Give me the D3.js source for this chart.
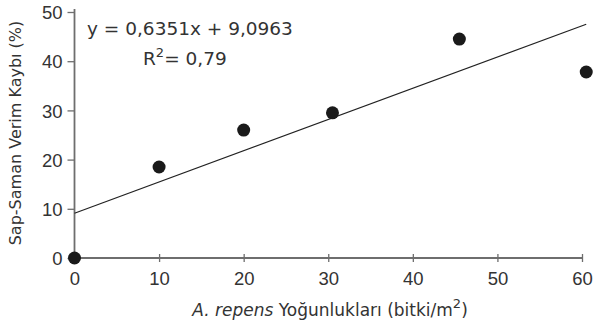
<!DOCTYPE html>
<html>
<head>
<meta charset="utf-8">
<script src="https://cdn.jsdelivr.net/npm/d3@7"></script>
<style>
body { margin: 0; background: #fff; }
svg { display: block; font-family: "DejaVu Sans", Verdana, sans-serif; }
</style>
</head>
<body>
<svg width="597" height="325"></svg>
<script>
// A. repens density vs. straw yield loss
let densities = [0, 10, 20, 30.5, 45.5, 60.5];
let losses = [0, 18.5, 26, 29.5, 44.5, 37.8];
let xTicks = [0, 10, 20, 30, 40, 50, 60];
let yTicks = [0, 10, 20, 30, 40, 50];
let slope = 0.6351, intercept = 9.0963;

let svg = d3.select('svg');
let x = d3.scaleLinear().domain([0, 60]).range([74.5, 582]);
let y = d3.scaleLinear().domain([0, 50]).range([258, 12]);

let axisColor = '#6e6e6e';
let textColor = '#333';

// y axis
let ya = svg.append('g').attr('transform', 'translate(74.5,0)')
  .call(d3.axisLeft(y).tickValues(yTicks).tickSize(7).tickPadding(5));
ya.select('.domain').attr('stroke', axisColor).attr('stroke-width', 1.8)
  .attr('d', 'M0,' + (y(50) - 3) + 'V' + y(0));
ya.selectAll('.tick line').attr('stroke', axisColor).attr('stroke-width', 1.3);
ya.selectAll('.tick text').attr('fill', textColor).style('font-size', '18.5px').attr('dy', '0.36em');

// x axis
let xa = svg.append('g').attr('transform', 'translate(0,' + y(0) + ')')
  .call(d3.axisBottom(x).tickValues(xTicks).tickSize(4).tickPadding(10));
xa.select('.domain').attr('stroke', axisColor).attr('stroke-width', 1.8)
  .attr('d', 'M' + x(0) + ',0H' + x(60));
xa.selectAll('.tick line').attr('stroke', axisColor).attr('stroke-width', 1.3).attr('y1', -4);
xa.selectAll('.tick text').attr('fill', textColor).style('font-size', '18.5px');

// trend line
svg.append('line')
  .attr('x1', x(0)).attr('y1', y(intercept))
  .attr('x2', x(60.5)).attr('y2', y(slope * 60.5 + intercept))
  .attr('stroke', '#222').attr('stroke-width', 1.2);

// points
svg.selectAll('circle').data(densities).enter().append('circle')
  .attr('cx', d => x(d))
  .attr('cy', (d, i) => y(losses[i]))
  .attr('r', 6.5)
  .attr('fill', '#1a1a1a');

// equation
svg.append('text').attr('x', 87).attr('y', 35).attr('fill', textColor)
  .style('font-size', '18.5px').text('y = 0,6351x + 9,0963');
let r2 = svg.append('text').attr('x', 143).attr('y', 65).attr('fill', textColor).style('font-size', '18.5px');
r2.append('tspan').text('R');
r2.append('tspan').attr('dy', -8).style('font-size', '13px').text('2');
r2.append('tspan').attr('dy', 8).text('= 0,79');

// axis titles
svg.append('text')
  .attr('transform', 'translate(21,' + 133 + ') rotate(-90)')
  .attr('text-anchor', 'middle').attr('fill', textColor).style('font-size', '16px')
  .text('Sap-Saman Verim Kaybı (%)');

let xt = svg.append('text').attr('x', 330).attr('y', 316).attr('text-anchor', 'middle')
  .attr('fill', textColor).style('font-size', '17px');
xt.append('tspan').style('font-style', 'italic').text('A. repens');
xt.append('tspan').text(' Yoğunlukları (bitki/m');
xt.append('tspan').attr('dy', -8).style('font-size', '13px').text('2');
xt.append('tspan').attr('dy', 8).text(')');
</script>
</body>
</html>
